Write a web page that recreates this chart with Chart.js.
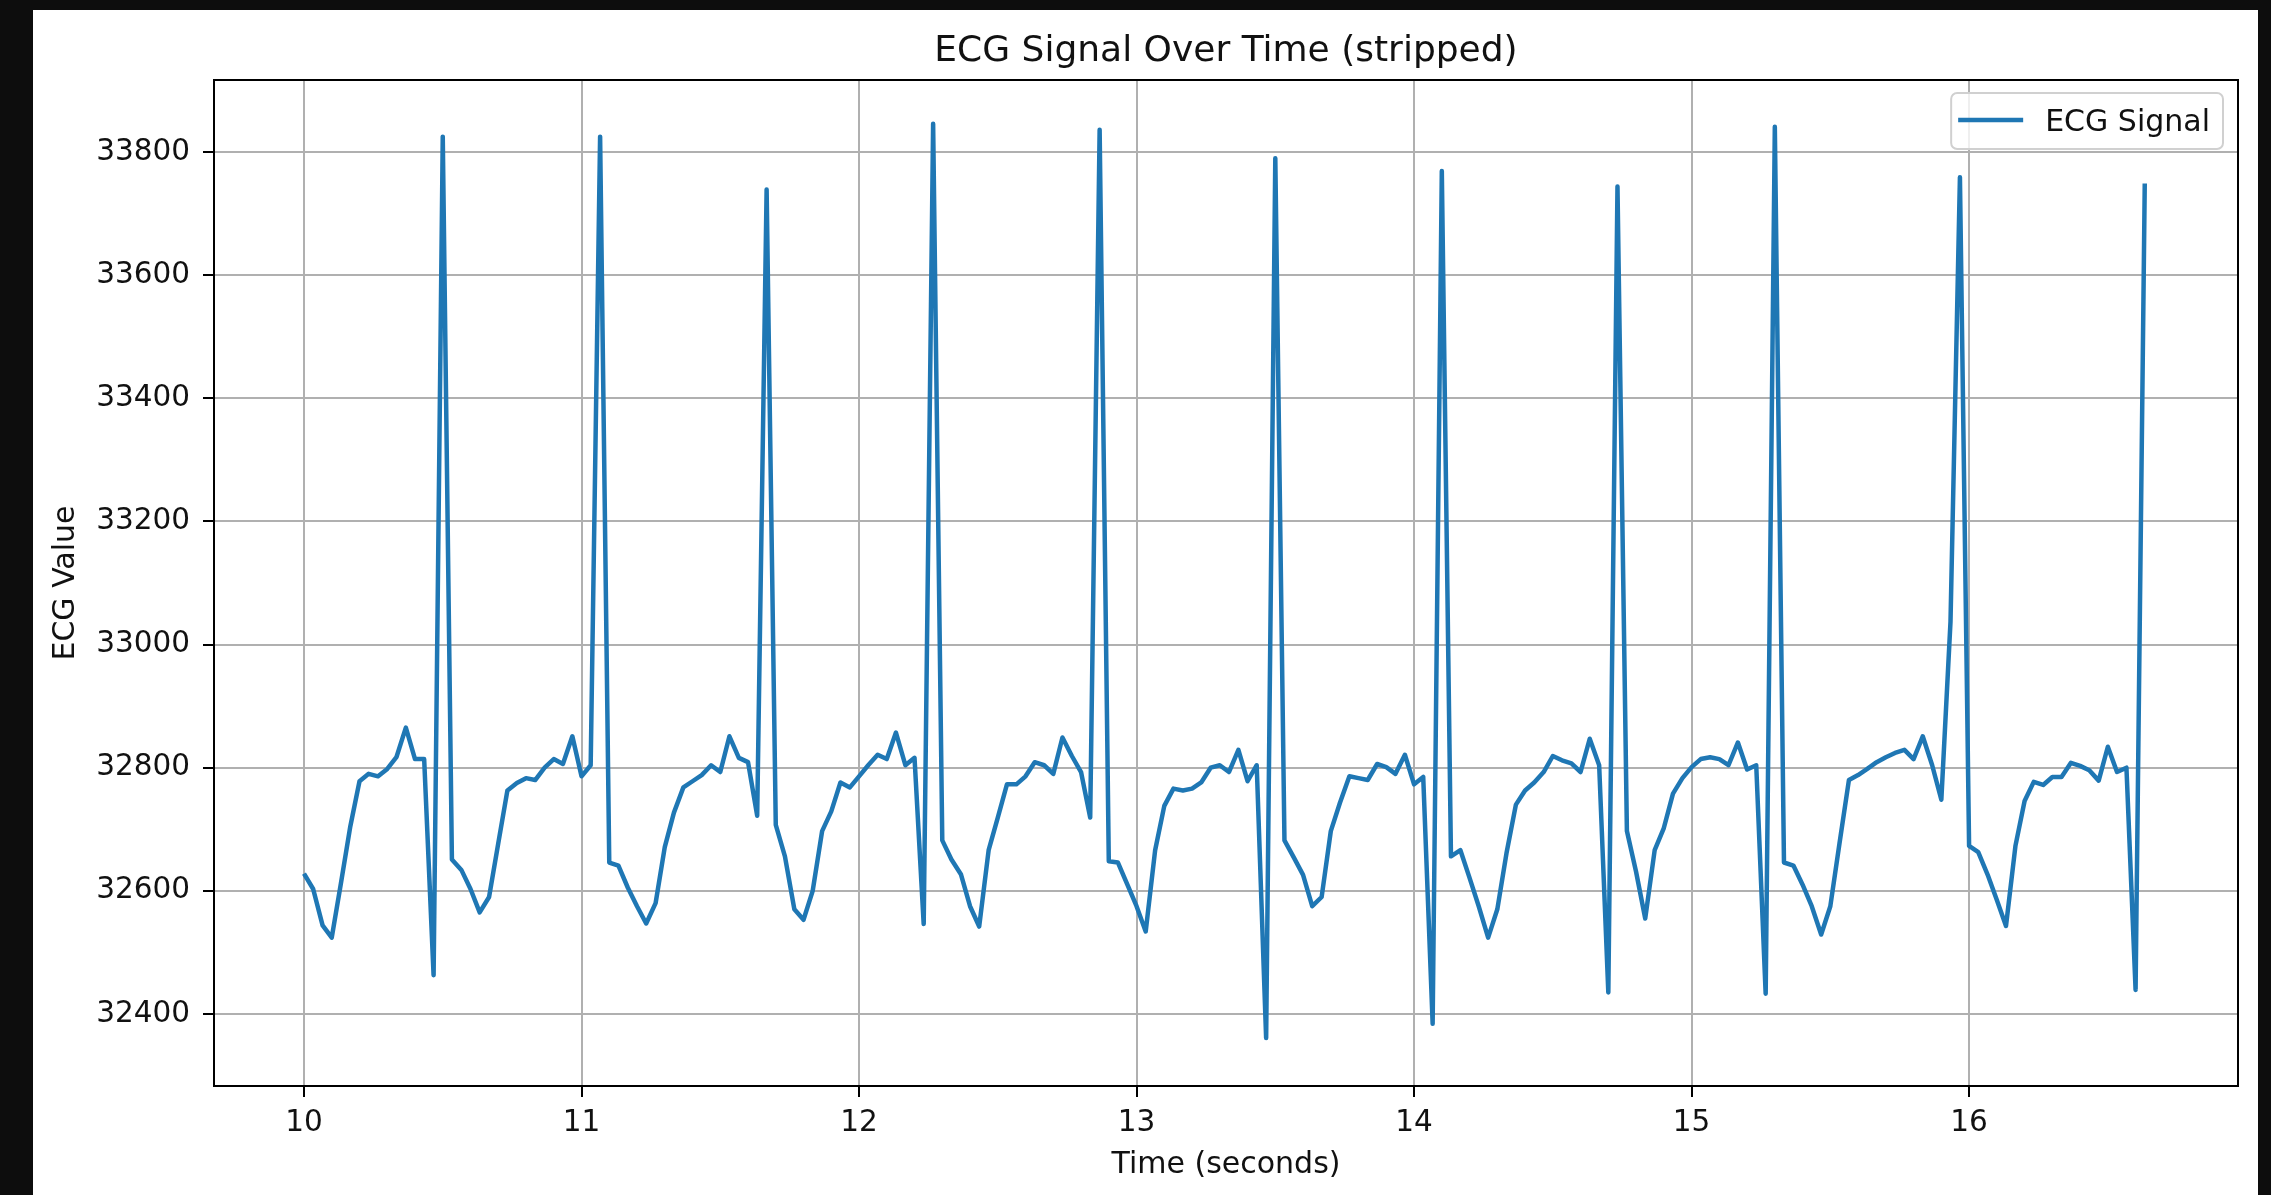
<!DOCTYPE html>
<html>
<head>
<meta charset="utf-8">
<script src="https://cdn.jsdelivr.net/npm/chart.js@4/dist/chart.umd.min.js"></script>
<style>
html, body { margin: 0; padding: 0; background: #0d0d0d; width: 2271px; height: 1195px; overflow: hidden; }
#wrap { position: absolute; left: 33px; top: 10px; width: 2225px; height: 1185px; background: #fff; }
canvas { display: block; }
</style>
</head>
<body>
<div id="wrap"><canvas id="c"></canvas></div>
<script>
const chartTitle = 'ECG Signal Over Time (stripped)';
const seriesLabel = 'ECG Signal';
const xAxisTitle = 'Time (seconds)';
const yAxisTitle = 'ECG Value';

const timeSeconds = [
  10,10.033,10.067,10.1,10.133,10.167,10.2,10.233,10.267,10.3,10.333,10.367,10.4,10.433,10.467,10.5,10.533,10.567,10.6,10.633,10.667,10.7,10.733,10.767,10.8,10.833,10.867,10.9,10.933,10.967,
  11,11.033,11.067,11.1,11.133,11.167,11.2,11.233,11.267,11.3,11.333,11.367,11.4,11.433,11.467,11.5,11.533,11.567,11.6,11.633,11.667,11.7,11.733,11.767,11.8,11.833,11.867,11.9,11.933,11.967,
  12,12.033,12.067,12.1,12.133,12.167,12.2,12.233,12.267,12.3,12.333,12.367,12.4,12.433,12.467,12.5,12.533,12.567,12.6,12.633,12.667,12.7,12.733,12.767,12.8,12.833,12.867,12.9,12.933,12.967,
  13,13.033,13.067,13.1,13.133,13.167,13.2,13.233,13.267,13.3,13.333,13.367,13.4,13.433,13.467,13.5,13.533,13.567,13.6,13.633,13.667,13.7,13.733,13.767,13.8,13.833,13.867,13.9,13.933,13.967,
  14,14.033,14.067,14.1,14.133,14.167,14.2,14.233,14.267,14.3,14.333,14.367,14.4,14.433,14.467,14.5,14.533,14.567,14.6,14.633,14.667,14.7,14.733,14.767,14.8,14.833,14.867,14.9,14.933,14.967,
  15,15.033,15.067,15.1,15.133,15.167,15.2,15.233,15.267,15.3,15.333,15.367,15.4,15.433,15.467,15.5,15.533,15.567,15.6,15.633,15.667,15.7,15.733,15.767,15.8,15.833,15.867,15.9,15.933,15.967,
  16,16.033,16.067,16.1,16.133,16.167,16.2,16.233,16.267,16.3,16.333,16.367,16.4,16.433,16.467,16.5,16.533,16.567,16.6,16.633
];

const ecgValues = [
  32628,32603,32544,32524,32612,32705,32778,32790,32786,32798,32817,32865,32814,32814,32463,33825,32651,32634,32603,32565,32590,32677,32763,32775,32783,32780,32800,32814,32806,32851,
  32786,32804,33825,32646,32641,32605,32575,32547,32580,32671,32727,32768,32778,32788,32804,32793,32851,32816,32809,32722,33739,32707,32656,32570,32553,32600,32697,32729,32776,32768,
  32786,32804,32821,32814,32857,32804,32816,32546,33846,32682,32651,32627,32575,32542,32666,32719,32773,32773,32786,32809,32804,32790,32849,32819,32793,32719,33836,32648,32646,32610,
  32575,32534,32666,32738,32766,32763,32766,32776,32800,32804,32793,32829,32778,32804,32361,33790,32682,32654,32626,32575,32590,32697,32743,32786,32783,32780,32806,32801,32790,32821,
  32773,32785,32384,33769,32656,32666,32621,32575,32524,32570,32661,32740,32763,32776,32793,32819,32812,32807,32793,32847,32804,32435,33744,32697,32631,32555,32666,32702,32758,32783,
  32801,32814,32817,32814,32804,32841,32797,32804,32433,33841,32646,32641,32610,32575,32529,32575,32677,32780,32788,32798,32809,32817,32824,32829,32814,32851,32804,32748,33037,33759,
  32673,32663,32626,32585,32543,32673,32746,32777,32772,32785,32785,32808,32803,32796,32779,32834,32793,32800,32439,33749
];

const xTickValues = [10, 11, 12, 13, 14, 15, 16];
const xTickLabels = ['10', '11', '12', '13', '14', '15', '16'];
const yTickValues = [32400, 32600, 32800, 33000, 33200, 33400, 33600, 33800];
const yTickLabels = ['32400', '32600', '32800', '33000', '33200', '33400', '33600', '33800'];

const FONT = "'DejaVu Sans', 'Liberation Sans', sans-serif";
const TEXT = '#111';

// Title centred over the plot area (as the reference does)
const axesTitlePlugin = {
  id: 'axesTitle',
  afterDraw(chart, args, opts) {
    const { ctx, chartArea: a } = chart;
    ctx.save();
    ctx.font = '36px ' + FONT;
    ctx.fillStyle = TEXT;
    ctx.textAlign = 'center';
    ctx.textBaseline = 'middle';
    ctx.fillText(opts.text, (a.left + a.right) / 2, a.top - 28);
    ctx.restore();
  }
};

const framePlugin = {
  id: 'frame',
  afterDatasetsDraw(chart) {
    const { ctx, chartArea: a } = chart;
    ctx.save();
    ctx.strokeStyle = '#000';
    ctx.lineWidth = 2;
    ctx.strokeRect(a.left, a.top, a.right - a.left, a.bottom - a.top);
    ctx.restore();
  }
};

const legendBoxPlugin = {
  id: 'legendBox',
  afterDraw(chart) {
    const { ctx, chartArea: a } = chart;
    const ds = chart.data.datasets[0];
    ctx.save();
    ctx.font = '30px ' + FONT;
    const tw = ctx.measureText(ds.label).width;
    const padL = 7, lineLen = 65, gap = 22, padR = 13, h = 56;
    const w = padL + lineLen + gap + tw + padR;
    const right = a.right - 15, top = a.top + 13;
    const left = right - w;
    ctx.beginPath();
    ctx.roundRect(left, top, w, h, 6);
    ctx.fillStyle = 'rgba(255,255,255,0.8)';
    ctx.fill();
    ctx.strokeStyle = '#d0d0d0';
    ctx.lineWidth = 2;
    ctx.stroke();
    const ly = top + 27;
    ctx.strokeStyle = ds.borderColor;
    ctx.lineWidth = ds.borderWidth;
    ctx.beginPath();
    ctx.moveTo(left + padL, ly);
    ctx.lineTo(left + padL + lineLen, ly);
    ctx.stroke();
    ctx.fillStyle = TEXT;
    ctx.textBaseline = 'alphabetic';
    ctx.textAlign = 'left';
    ctx.fillText(ds.label, left + padL + lineLen + gap, top + 38);
    ctx.restore();
  }
};

new Chart(document.getElementById('c'), {
  type: 'line',
  data: {
    datasets: [{
      label: seriesLabel,
      data: timeSeconds.map((t, i) => ({ x: t, y: ecgValues[i] })),
      borderColor: '#1f77b4',
      borderWidth: 4.5,
      pointRadius: 0,
      pointHoverRadius: 0,
      tension: 0,
      fill: false,
      borderJoinStyle: 'round',
      borderCapStyle: 'butt'
    }]
  },
  options: {
    responsive: true,
    maintainAspectRatio: false,
    animation: false,
    devicePixelRatio: 1,
    layout: { padding: { left: 0, right: 20, top: 70, bottom: 0 } },
    plugins: {
      legend: { display: false },
      tooltip: { enabled: false },
      title: { display: false },
      axesTitle: { text: chartTitle }
    },
    scales: {
      x: {
        type: 'linear',
        min: 9.6757,
        max: 16.969,
        afterBuildTicks: s => { s.ticks = xTickValues.map(v => ({ value: v })); },
        afterFit: s => { s.height = 109; },
        ticks: {
          callback: (v, i) => xTickLabels[i],
          font: { family: FONT, size: 29.5 },
          color: TEXT,
          padding: 8.5,
          maxRotation: 0,
          autoSkip: false
        },
        grid: { color: '#b0b0b0', lineWidth: 2, tickColor: '#000', tickLength: 11, tickWidth: 2 },
        border: { display: false },
        title: {
          display: true,
          text: xAxisTitle,
          color: TEXT,
          font: { family: FONT, size: 30 },
          padding: { top: 0, bottom: 12 }
        }
      },
      y: {
        type: 'linear',
        min: 32283,
        max: 33917,
        afterBuildTicks: s => { s.ticks = yTickValues.map(v => ({ value: v })); },
        afterFit: s => { s.width = 181; },
        ticks: {
          callback: (v, i) => yTickLabels[i],
          font: { family: FONT, size: 29.5 },
          color: TEXT,
          padding: 13,
          autoSkip: false
        },
        grid: { color: '#b0b0b0', lineWidth: 2, tickColor: '#000', tickLength: 11, tickWidth: 2 },
        border: { display: false },
        title: {
          display: true,
          text: yAxisTitle,
          color: TEXT,
          font: { family: FONT, size: 30 },
          padding: { top: 15, bottom: 0 }
        }
      }
    }
  },
  plugins: [axesTitlePlugin, framePlugin, legendBoxPlugin]
});
</script>
</body>
</html>
